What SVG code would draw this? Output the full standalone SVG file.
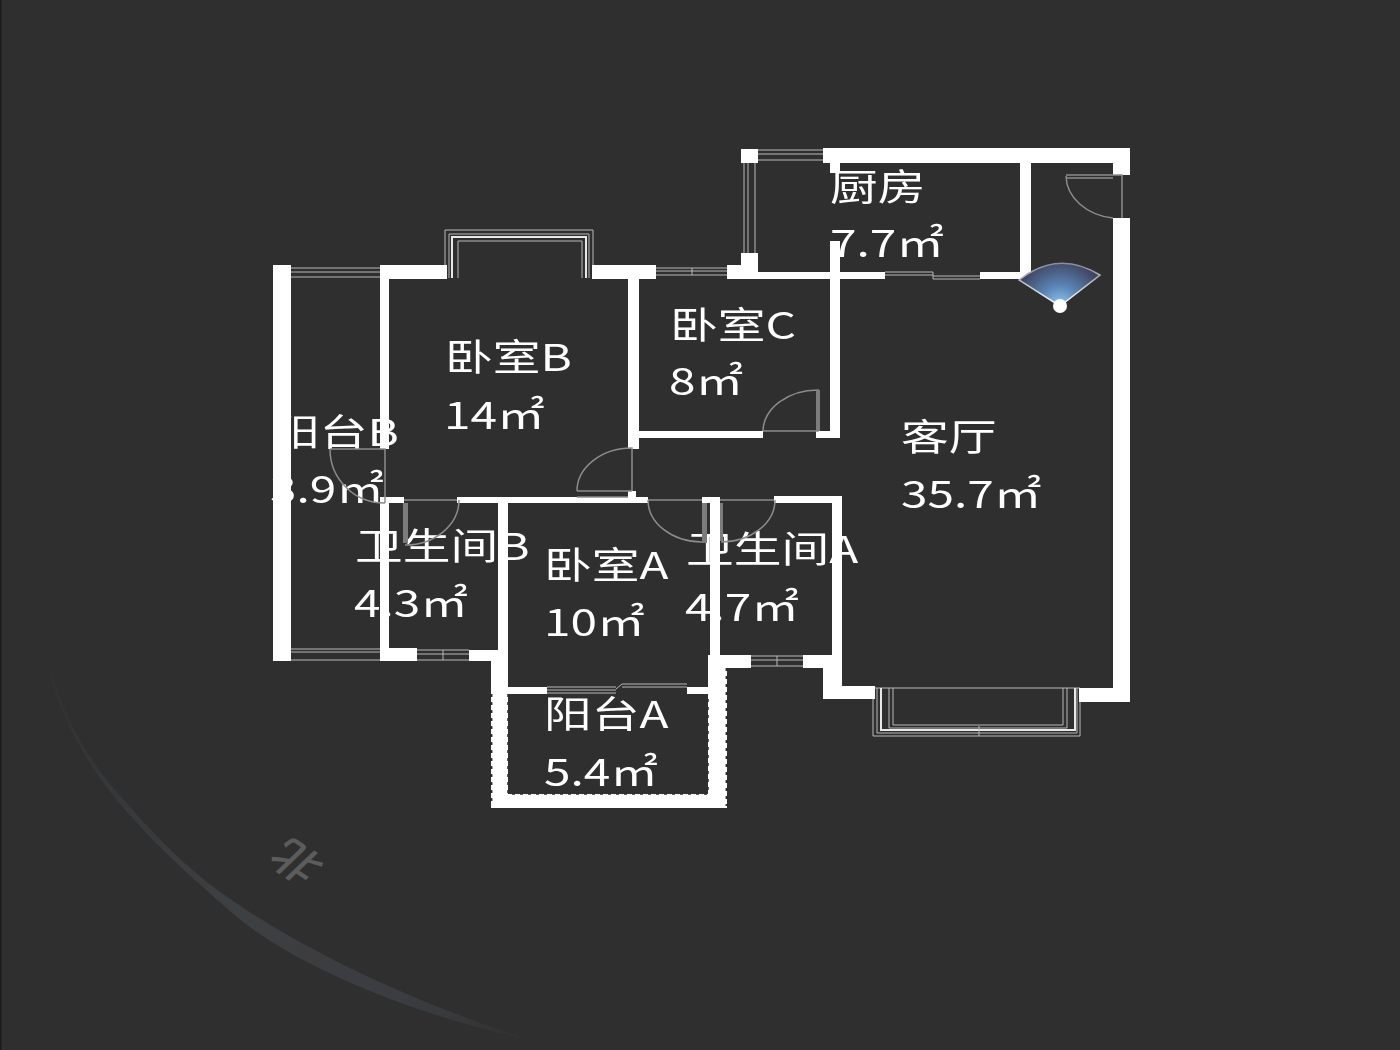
<svg xmlns="http://www.w3.org/2000/svg" width="1400" height="1050" viewBox="0 0 1400 1050">
<style>
.w{fill:#fff}
.l{fill:none;stroke:#b8b8b8;stroke-width:1}
.lb{fill:none;stroke:#e8e8e8;stroke-width:2}
.d{fill:none;stroke:#8c8c8c;stroke-width:1.5}
.leaf{fill:#7c7c7c}
.t{font-family:"Noto Sans CJK SC","Noto Sans",sans-serif;font-size:37px;fill:#fff}
.dash{fill:none;stroke:#2f2f2f;stroke-width:1.5;stroke-dasharray:3 5}
</style>
<defs>
<filter id="soft" x="-5%" y="-5%" width="110%" height="110%"><feGaussianBlur stdDeviation="0.5"/></filter>
<radialGradient id="fan" gradientUnits="userSpaceOnUse" cx="1060" cy="306" r="46">
<stop offset="0" stop-color="#8ccbf7"/>
<stop offset="0.45" stop-color="#5b83b5"/>
<stop offset="1" stop-color="#3f4560"/>
</radialGradient>
<linearGradient id="edge" gradientUnits="userSpaceOnUse" x1="1060" y1="306" x2="1060" y2="264">
<stop offset="0" stop-color="#ffffff"/>
<stop offset="1" stop-color="#8a8e98"/>
</linearGradient>
<linearGradient id="curve" gradientUnits="userSpaceOnUse" x1="44" y1="650" x2="530" y2="1040">
<stop offset="0" stop-color="#2f2f2f"/>
<stop offset="0.2" stop-color="#35373a"/>
<stop offset="0.5" stop-color="#3e4043"/>
<stop offset="0.85" stop-color="#393b3e"/>
<stop offset="1" stop-color="#303031"/>
</linearGradient>
</defs>

<rect width="1400" height="1050" fill="#2f2f2f"/>
<rect width="1.500" height="1050" fill="#1c1c1c"/>

<path id="compass-arc" fill="url(#curve)" filter="url(#soft)" d="M44 650C62 715 88 762 125 801C160 842 195 876 236 903C290 940 390 995 530 1040C400 1012 285 960 230 911C190 876 155 845 121 805C88 766 58 718 44 650Z"/>
<text transform="translate(294 864) scale(1.25 1) rotate(220)" text-anchor="middle" dominant-baseline="central" style="font-family:'Noto Sans CJK SC',sans-serif;font-size:40px;font-weight:500" fill="#5c5c5c">北</text>

<g id="windows" filter="url(#soft)">
<path class="l" d="M291 268H380M291 272H380M291 277H380"/>
<path class="l" d="M291 649H380M291 652H380M291 660H380"/>
<path class="l" d="M417 650H469M417 654H469M417 660H469M443 650V660"/>
<path class="l" d="M751 656H803M751 660H803M751 666H803M777 656V666"/>
<path class="l" d="M656 268H727M656 271H727M656 275H727M692 268V275"/>
<path class="l" d="M758 150H823M758 154H823M758 160H823"/>
<path class="l" d="M744 163V253M748 163V253M755 163V253"/>
<path class="l" d="M885 272H933M885 275H933M933 276H980M933 279H980M933 272V279"/>
<path class="l" d="M547 687H616M547 690H616M616 689L622 684H687M622 687H687M616 693H547"/>
<path class="l" d="M445 278V230H593V278M449 278V234H589V278"/>
<path class="lb" d="M452 278V237H586V278"/>
<path class="l" d="M458 278V241H582V278"/>
<path class="l" d="M875 688H1080"/>
<path class="l" d="M873 688V736H1080V688M877 688V733H1077V688"/>
<path class="lb" d="M881 688V730H1075V688"/>
<path class="l" d="M893 688V725H1063V688M889 688V728H1067V688M979 726V736"/>
</g>

<g id="labels" filter="url(#soft)">
<text class="t" transform="translate(830 201) scale(1.29 1)">厨房</text>
<text class="t" transform="translate(830 257) scale(1.29 1)">7.7㎡</text>
<text class="t" transform="translate(670 339) scale(1.29 1)">卧室C</text>
<text class="t" transform="translate(669 395) scale(1.29 1)">8㎡</text>
<text class="t" transform="translate(445 371) scale(1.29 1)">卧室B</text>
<text class="t" transform="translate(444 429) scale(1.29 1)">14㎡</text>
<text class="t" transform="translate(272 446) scale(1.29 1)">阳台B</text>
<text class="t" transform="translate(270 503) scale(1.29 1)">3.9㎡</text>
<text class="t" transform="translate(355 560) scale(1.29 1)">卫生间B</text>
<text class="t" transform="translate(354 617) scale(1.29 1)">4.3㎡</text>
<text class="t" transform="translate(544 579) scale(1.29 1)">卧室A</text>
<text class="t" transform="translate(544 636) scale(1.29 1)">10㎡</text>
<text class="t" transform="translate(686 563) scale(1.29 1)">卫生间A</text>
<text class="t" transform="translate(685 621) scale(1.29 1)">4.7㎡</text>
<text class="t" transform="translate(544 728) scale(1.29 1)">阳台A</text>
<text class="t" transform="translate(544 786) scale(1.29 1)">5.4㎡</text>
<text class="t" transform="translate(901 451) scale(1.29 1)">客厅</text>
<text class="t" transform="translate(901 508) scale(1.29 1)">35.7㎡</text>
</g>

<g id="walls" filter="url(#soft)">
<rect class="w" x="823" y="148" width="307" height="15"/>
<rect class="w" x="741" y="149" width="17" height="14"/>
<rect class="w" x="830" y="148" width="10" height="25"/>
<rect class="w" x="1113" y="148" width="17" height="27"/>
<rect class="w" x="1113" y="218" width="17" height="484"/>
<rect class="w" x="1020" y="163" width="11" height="115"/>
<rect class="w" x="741" y="253" width="17" height="25"/>
<rect class="w" x="727" y="265" width="31" height="13"/>
<rect class="w" x="727" y="272" width="158" height="7"/>
<rect class="w" x="980" y="272" width="51" height="7"/>
<rect class="w" x="830" y="241" width="10" height="197"/>
<rect class="w" x="628" y="431" width="135" height="7"/>
<rect class="w" x="816" y="431" width="24" height="7"/>
<rect class="w" x="273" y="265" width="18" height="396"/>
<rect class="w" x="380" y="265" width="67" height="14"/>
<rect class="w" x="592" y="265" width="64" height="14"/>
<rect class="w" x="380" y="265" width="9" height="184"/>
<rect class="w" x="380" y="497" width="9" height="164"/>
<rect class="w" x="628" y="279" width="11" height="170"/>
<rect class="w" x="628" y="491" width="8" height="7"/>
<rect class="w" x="380" y="497" width="24" height="6"/>
<rect class="w" x="457" y="497" width="191" height="6"/>
<rect class="w" x="498" y="497" width="10" height="153"/>
<rect class="w" x="380" y="648" width="37" height="13"/>
<rect class="w" x="469" y="650" width="31" height="11"/>
<rect class="w" x="491" y="650" width="17" height="158"/>
<rect class="w" x="508" y="687" width="39" height="7"/>
<rect class="w" x="687" y="687" width="21" height="7"/>
<rect class="w" x="708" y="655" width="19" height="153"/>
<rect class="w" x="491" y="794" width="236" height="14"/>
<rect class="w" x="710" y="497" width="10" height="160"/>
<rect class="w" x="702" y="497" width="18" height="6"/>
<rect class="w" x="774" y="496" width="68" height="7"/>
<rect class="w" x="832" y="496" width="10" height="160"/>
<rect class="w" x="710" y="655" width="41" height="13"/>
<rect class="w" x="803" y="655" width="39" height="13"/>
<rect class="w" x="823" y="655" width="19" height="44"/>
<rect class="w" x="823" y="686" width="52" height="13"/>
<rect class="w" x="1079" y="688" width="51" height="14"/>
<path class="dash" d="M508 694V794H708V694M491.700 694V806M726.300 668V806"/>
</g>

<g id="doors" filter="url(#soft)">
<path class="d" d="M763 431A55 42 0 0 1 818 390V431H763"/>
<rect class="leaf" x="816" y="390" width="4" height="41"/>
<path class="d" d="M577 491A55 43 0 0 1 632 448V491"/>
<path class="d" d="M577 491H632M577 497H628"/>
<path class="d" d="M330 449H385V503M330 449A54 54 0 0 0 385 503"/>
<path class="d" d="M404 500H457M459 500A54 45 0 0 1 405 545"/>
<rect class="leaf" x="403" y="503" width="5" height="40"/>
<path class="d" d="M648 500H702M648 500A54 42 0 0 0 702 542"/>
<rect class="leaf" x="702" y="503" width="5" height="40"/>
<path class="d" d="M720 500H774M775 500A54 42 0 0 1 721 542"/>
<rect class="leaf" x="720" y="503" width="3" height="38"/>
<path class="d" d="M1066 175H1122V218M1066 178H1113M1066 176A54 43 0 0 0 1113 218"/>
</g>

<g id="camera" filter="url(#soft)">
<path d="M1060 306L1019 280Q1058 249 1100 275Z" fill="url(#fan)" stroke="url(#edge)" stroke-width="1.500"/>
<circle cx="1060" cy="306" r="7" fill="#fff"/>
</g>
</svg>
